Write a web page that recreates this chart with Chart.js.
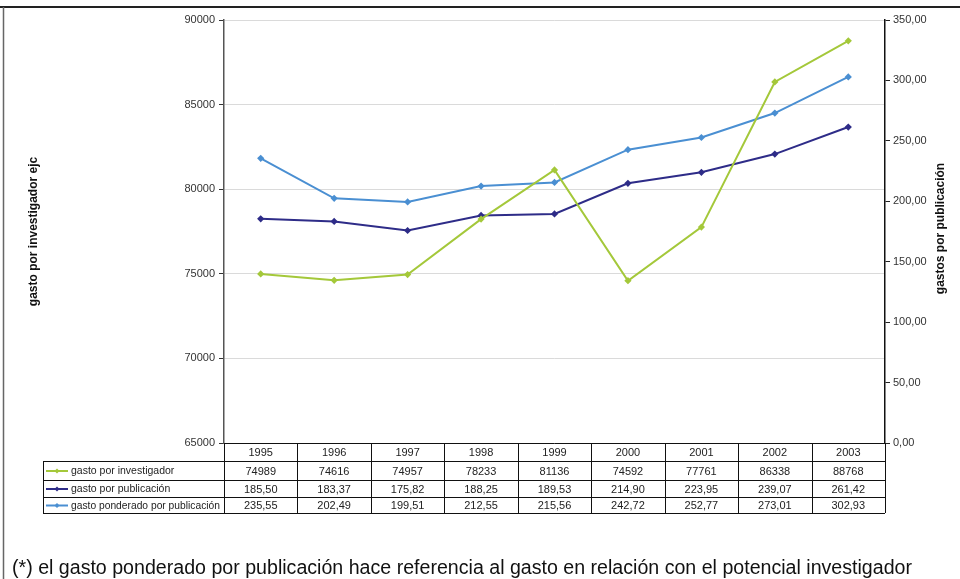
<!DOCTYPE html>
<html lang="es">
<head>
<meta charset="UTF-8" />
<title>Gasto por investigador y por publicación</title>
<script src="https://cdn.jsdelivr.net/npm/chart.js@4.4.1/dist/chart.umd.min.js"></script>
<style>
  body { margin: 0; background: #fff; }
  canvas { display: block; }
</style>
</head>
<body>
<canvas id="chart" width="960" height="579"></canvas>
<script>
// datos
const years = ["1995", "1996", "1997", "1998", "1999", "2000", "2001", "2002", "2003"];
const gastoInvestigador = [74989, 74616, 74957, 78233, 81136, 74592, 77761, 86338, 88768];
const gastoPublicacion = [185.50, 183.37, 175.82, 188.25, 189.53, 214.90, 223.95, 239.07, 261.42];
const gastoPonderado = [235.55, 202.49, 199.51, 212.55, 215.56, 242.72, 252.77, 273.01, 302.93];
const seriesNames = ["gasto por investigador", "gasto por publicación", "gasto ponderado por publicación"];
const seriesColors = ["#a4c83a", "#2e2c88", "#4a8fd2"];
const leftTitle = "gasto por investigador ejc";
const rightTitle = "gastos por publicación";
const footnote = "(*) el gasto ponderado por publicación hace referencia al gasto en relación con el potencial investigador";

const FONT = '"Liberation Sans", Arial, sans-serif';
Chart.defaults.font.family = FONT;
Chart.defaults.font.size = 11;
Chart.defaults.color = "#333";

const coma = (v) => v.toFixed(2).replace(".", ",");

// tabla de datos, titulos de ejes, marco y nota al pie
const extras = {
  id: "extras",
  afterDraw(chart) {
    const ctx = chart.ctx;
    const area = chart.chartArea;
    const colW = (area.right - area.left) / years.length;
    const rowY = [area.bottom, 461, 480, 497, 513];
    const legendLeft = 43;

    ctx.save();
    // marco de la pagina
    ctx.strokeStyle = "#222";
    ctx.lineWidth = 2;
    ctx.beginPath();
    ctx.moveTo(0, 7);
    ctx.lineTo(960, 7);
    ctx.stroke();
    ctx.strokeStyle = "#666";
    ctx.lineWidth = 1.5;
    ctx.beginPath();
    ctx.moveTo(3.5, 7);
    ctx.lineTo(3.5, 579);
    ctx.stroke();

    // lineas de la tabla
    ctx.strokeStyle = "#111";
    ctx.lineWidth = 1;
    ctx.beginPath();
    ctx.moveTo(area.left, rowY[0] + 0.5);
    ctx.lineTo(area.right, rowY[0] + 0.5);
    for (let r = 1; r < rowY.length; r++) {
      ctx.moveTo(legendLeft, rowY[r] + 0.5);
      ctx.lineTo(area.right, rowY[r] + 0.5);
    }
    for (let c = 0; c <= years.length; c++) {
      const x = Math.round(area.left + c * colW) + 0.5;
      ctx.moveTo(x, rowY[0]);
      ctx.lineTo(x, rowY[4]);
    }
    ctx.moveTo(legendLeft + 0.5, rowY[1]);
    ctx.lineTo(legendLeft + 0.5, rowY[4]);
    ctx.stroke();

    ctx.font = "11px " + FONT;
    ctx.fillStyle = "#222";
    ctx.textAlign = "center";
    ctx.textBaseline = "middle";
    const rows = [
      gastoInvestigador.map(String),
      gastoPublicacion.map(coma),
      gastoPonderado.map(coma),
    ];
    years.forEach((y, i) => {
      const cx = chart.scales.x.getPixelForValue(i);
      ctx.fillText(y, cx, (rowY[0] + rowY[1]) / 2 + 1);
      rows.forEach((vals, r) => {
        ctx.fillText(vals[i], cx, (rowY[r + 1] + rowY[r + 2]) / 2 + 1);
      });
    });

    // leyenda dentro de la tabla
    ctx.font = "10.5px " + FONT;
    ctx.textAlign = "left";
    seriesNames.forEach((name, r) => {
      const cy = (rowY[r + 1] + rowY[r + 2]) / 2 + 0.5;
      ctx.strokeStyle = seriesColors[r];
      ctx.lineWidth = 2;
      ctx.beginPath();
      ctx.moveTo(46, cy);
      ctx.lineTo(68, cy);
      ctx.stroke();
      ctx.fillStyle = seriesColors[r];
      ctx.beginPath();
      ctx.moveTo(57, cy - 2.5);
      ctx.lineTo(59.5, cy);
      ctx.lineTo(57, cy + 2.5);
      ctx.lineTo(54.5, cy);
      ctx.closePath();
      ctx.fill();
      ctx.fillStyle = "#222";
      ctx.fillText(name, 71, cy + 0.5, 149);
    });

    // titulos de los ejes
    ctx.font = "bold 12px " + FONT;
    ctx.fillStyle = "#111";
    ctx.textAlign = "center";
    const midY = (area.top + area.bottom) / 2;
    ctx.save();
    ctx.translate(34, midY);
    ctx.rotate(-Math.PI / 2);
    ctx.fillText(leftTitle, 0, 0);
    ctx.restore();
    ctx.save();
    ctx.translate(941, midY - 3);
    ctx.rotate(-Math.PI / 2);
    ctx.fillText(rightTitle, 0, 0);
    ctx.restore();

    // nota al pie
    ctx.font = "20px " + FONT;
    ctx.fillStyle = "#111";
    ctx.textAlign = "left";
    ctx.textBaseline = "alphabetic";
    ctx.fillText(footnote, 12, 574, 900);
    ctx.restore();
  },
};

new Chart(document.getElementById("chart"), {
  type: "line",
  data: {
    labels: years,
    datasets: [
      { label: seriesNames[0], data: gastoInvestigador, yAxisID: "y" },
      { label: seriesNames[1], data: gastoPublicacion, yAxisID: "y1" },
      { label: seriesNames[2], data: gastoPonderado, yAxisID: "y1" },
    ].map((d, i) => ({
      ...d,
      borderColor: seriesColors[i],
      backgroundColor: seriesColors[i],
      borderWidth: 2,
      pointStyle: "rectRot",
      pointRadius: 2.2,
      tension: 0,
    })),
  },
  options: {
    responsive: false,
    animation: false,
    devicePixelRatio: 1,
    layout: { padding: { left: 0, right: 0, top: 20, bottom: 136 } },
    plugins: { legend: { display: false }, tooltip: { enabled: false } },
    scales: {
      x: { type: "category", offset: true, display: false },
      y: {
        position: "left",
        min: 65000,
        max: 90000,
        ticks: { stepSize: 5000, padding: 4, callback: (v) => String(v) },
        grid: { color: "#dadada", tickColor: "#333", tickLength: 5 },
        border: { color: "#555", width: 1.5 },
        afterFit: (s) => { s.width = 224; },
      },
      y1: {
        position: "right",
        min: 0,
        max: 350,
        ticks: { stepSize: 50, padding: 3, callback: (v) => coma(v) },
        grid: { drawOnChartArea: false, tickColor: "#222", tickLength: 5 },
        border: { color: "#111", width: 1.5 },
        afterFit: (s) => { s.width = 75; },
      },
    },
  },
  plugins: [extras],
});
</script>
</body>
</html>
